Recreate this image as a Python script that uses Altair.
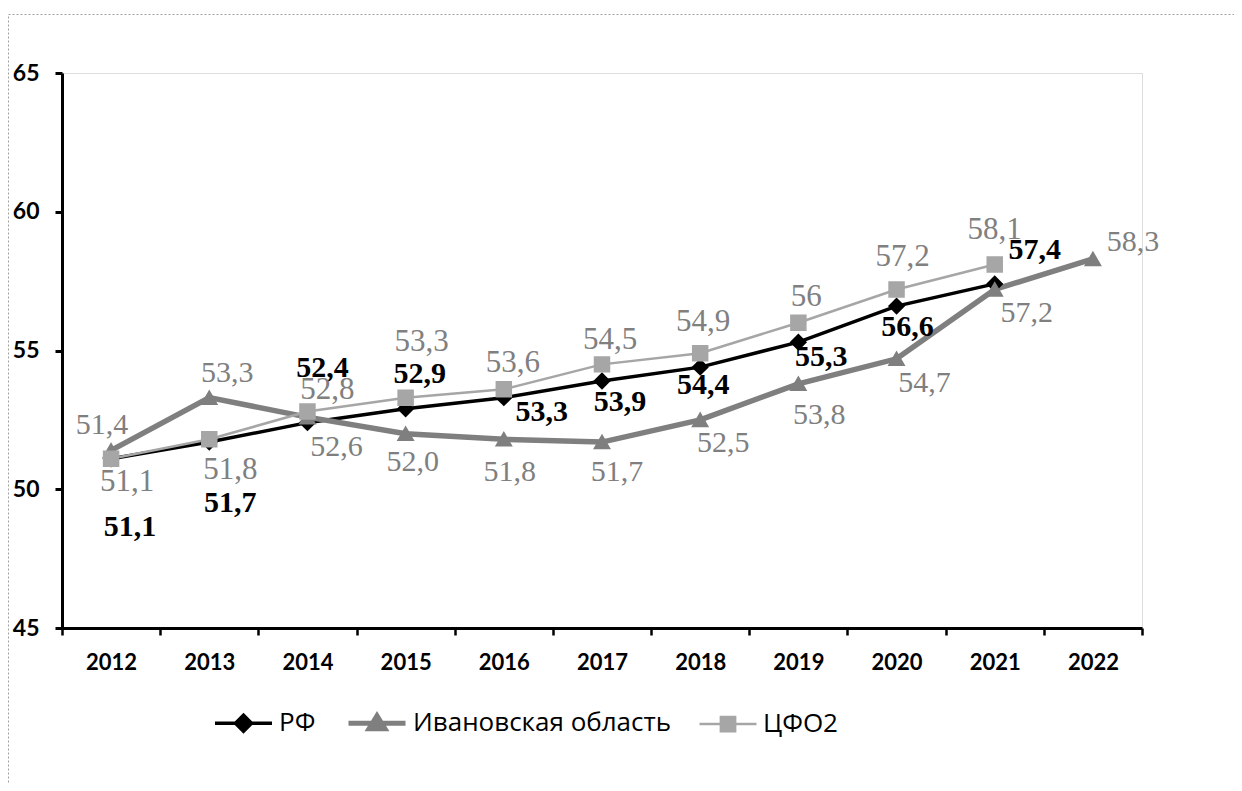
import altair as alt
import pandas as pd

years = ["2012", "2013", "2014", "2015", "2016", "2017", "2018", "2019", "2020", "2021", "2022"]
series_names = ["РФ", "Ивановская область", "ЦФО2"]

rf_values = [51.1, 51.7, 52.4, 52.9, 53.3, 53.9, 54.4, 55.3, 56.6, 57.4, None]
ivan_values = [51.4, 53.3, 52.6, 52.0, 51.8, 51.7, 52.5, 53.8, 54.7, 57.2, 58.3]
cfo_values = [51.1, 51.8, 52.8, 53.3, 53.6, 54.5, 54.9, 56.0, 57.2, 58.1, None]

rf_labels = ["51,1", "51,7", "52,4", "52,9", "53,3", "53,9", "54,4", "55,3", "56,6", "57,4", None]
ivan_labels = ["51,4", "53,3", "52,6", "52,0", "51,8", "51,7", "52,5", "53,8", "54,7", "57,2", "58,3"]
cfo_labels = ["51,1", "51,8", "52,8", "53,3", "53,6", "54,5", "54,9", "56", "57,2", "58,1", None]

# label placement offsets (pixels) - styling only
rf_dx = [19, 21, 15, 14, 38, 18, 3, 23, 11, 40, 0]
rf_dy = [68, 61, -55, -35, 14, 21, 18, 15, 21, -34, 0]
ivan_dx = [-9, 18, 29, 7, 6, 15, 23, 21, 28, 32, 40]
ivan_dy = [-25, -25, 30, 28, 33, 30, 23, 31, 24, 24, -17]
cfo_dx = [16, 21, 20, 16, 9, 8, 3, 8, 6, 0, 0]
cfo_dy = [23, 31, -22, -56, -26, -24, -31, -26, -32, -34, 0]

rows = []
for name, vals, labs, dxs, dys in [
    ("РФ", rf_values, rf_labels, rf_dx, rf_dy),
    ("Ивановская область", ivan_values, ivan_labels, ivan_dx, ivan_dy),
    ("ЦФО2", cfo_values, cfo_labels, cfo_dx, cfo_dy),
]:
    for y, v, l, dx, dy in zip(years, vals, labs, dxs, dys):
        if v is None:
            continue
        rows.append({"series": name, "year": y, "value": v, "label": l, "dx": dx, "dy": dy})
df = pd.DataFrame(rows)

colors = ["#000000", "#7f7f7f", "#a6a6a6"]
line_widths = {"РФ": 3.5, "Ивановская область": 5.5, "ЦФО2": 2.5}
label_style = {
    "РФ": dict(color="#000000", fontWeight="bold", fontSize=30),
    "Ивановская область": dict(color="#7f7f7f", fontWeight="normal", fontSize=30),
    "ЦФО2": dict(color="#808080", fontWeight="normal", fontSize=31),
}

x_enc = alt.X(
    "year:O",
    bandPosition=0.5,
    scale=alt.Scale(type="band", domain=years, paddingInner=0, paddingOuter=0),
    axis=alt.Axis(
        title=None, labelAngle=0, tickBand="extent", domainColor="black", domainWidth=3,
        tickColor="black", tickWidth=2.5, tickSize=7, labelFont="Lato", labelFontSize=22,
        labelFontWeight="bold", labelColor="black", labelPadding=17, grid=False,
    ),
)
y_enc = alt.Y(
    "value:Q",
    scale=alt.Scale(domain=[45, 65], nice=False, zero=False),
    axis=alt.Axis(
        title=None, values=[45, 50, 55, 60, 65], domainColor="black", domainWidth=3,
        tickColor="black", tickWidth=3, tickSize=7, labelFont="Lato", labelFontSize=23,
        labelFontWeight="bold", labelColor="black", labelPadding=16, grid=False,
    ),
)

color_scale = alt.Scale(domain=series_names, range=colors)

line_layers = []
for name, col in zip(series_names, colors):
    line_layers.append(
        alt.Chart(df).transform_filter(alt.datum.series == name)
        .mark_line(color=col, strokeWidth=line_widths[name])
        .encode(x=x_enc, y=y_enc, order=alt.Order("year:O"))
    )

points = alt.Chart(df).mark_point(filled=True, opacity=1, size=210).encode(
    x=x_enc,
    y=y_enc,
    fill=alt.Fill("series:N", scale=color_scale, legend=None),
    stroke=alt.Stroke("series:N", scale=color_scale, legend=None),
    shape=alt.Shape("series:N", scale=alt.Scale(domain=series_names, range=["diamond", "triangle-up", "square"]), legend=None),
)

# legend-only layer (no marks drawn; legend symbols include the line segment)
leg_paths = [
    "M-1,0L1,0M0,-0.28L0.28,0L0,0.28L-0.28,0Z",
    "M-1,0L1,0M0,-0.26L0.28,0.2L-0.28,0.2Z",
    "M-1,0L1,0M-0.25,-0.25L0.25,-0.25L0.25,0.25L-0.25,0.25Z",
]
legend_def = alt.Legend(
    title=None, orient="none", legendX=151, legendY=619, direction="horizontal",
    labelFont="Open Sans", labelFontSize=26, labelColor="black", symbolSize=3249,
    columnPadding=22, labelOffset=5, symbolStrokeWidth=3, labelLimit=1000,
)
legend_layer = alt.Chart(df).transform_filter("false").transform_calculate(
    leg="datum.series"
).mark_point(filled=True, opacity=1).encode(
    x=x_enc,
    y=y_enc,
    fill=alt.Fill("leg:N", scale=color_scale, legend=legend_def),
    stroke=alt.Stroke("leg:N", scale=color_scale, legend=legend_def),
    shape=alt.Shape("leg:N", scale=alt.Scale(domain=series_names, range=leg_paths), legend=legend_def),
    strokeWidth=alt.StrokeWidth("leg:N", scale=alt.Scale(type="ordinal", domain=series_names, range=[3.5, 5, 2.5]), legend=legend_def),
)

texts = []
for name in series_names:
    st = label_style[name]
    t = alt.Chart(df).transform_filter(alt.datum.series == name).mark_text(
        font="Liberation Serif", fontSize=st["fontSize"], fontWeight=st["fontWeight"],
        color=st["color"], align="center", baseline="middle",
        dx={"expr": "datum.dx"}, dy={"expr": "datum.dy"},
    ).encode(x=x_enc, y=y_enc, text="label:N")
    texts.append(t)

frame = alt.Chart(pd.DataFrame({"a": [0]})).mark_rect(
    fill=None, stroke="#a0a0a0", strokeWidth=1, strokeDash=[2, 2]
).encode(x=alt.value(-53.5), x2=alt.value(1400), y=alt.value(-58.5), y2=alt.value(900))

chart = alt.layer(frame, *line_layers, points, legend_layer, *texts).properties(
    width=1080, height=555,
    autosize=alt.AutoSizeParams(type="none"),
    padding={"left": 54, "top": 65, "right": 92, "bottom": 155},
).resolve_scale(fill="independent", stroke="independent", shape="independent", strokeWidth="independent"
).configure_view(stroke=None).configure(background="white")

chart.save("out.html", embed_options={"renderer": "svg", "actions": False})
